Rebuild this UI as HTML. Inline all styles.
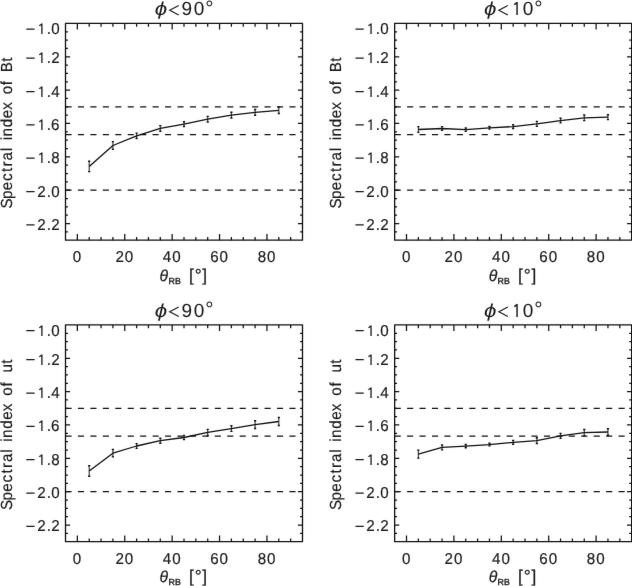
<!DOCTYPE html>
<html><head><meta charset="utf-8"><style>
html,body{margin:0;padding:0;background:#fff;}
body{width:632px;height:586px;overflow:hidden;}
svg{display:block;}
text{font-family:"Liberation Sans",sans-serif;fill:#1a1a1a;stroke:#1a1a1a;stroke-width:0.18px;text-rendering:geometricPrecision;}
</style></head><body>
<svg width="632" height="586" viewBox="0 0 632 586">
<defs><filter id="soft" x="0" y="0" width="632" height="586" filterUnits="userSpaceOnUse" color-interpolation-filters="sRGB"><feConvolveMatrix order="3" kernelMatrix="0.00276 0.04704 0.00276 0.04704 0.80077 0.04704 0.00276 0.04704 0.00276" edgeMode="duplicate"/></filter></defs>
<g filter="url(#soft)">
<rect width="632" height="586" fill="#fff"/>
<path d="M77.35 240.20v-6.1M77.35 23.45v6.1M89.20 240.20v-3.3M89.20 23.45v3.3M101.05 240.20v-3.3M101.05 23.45v3.3M112.90 240.20v-3.3M112.90 23.45v3.3M124.75 240.20v-6.1M124.75 23.45v6.1M136.60 240.20v-3.3M136.60 23.45v3.3M148.45 240.20v-3.3M148.45 23.45v3.3M160.30 240.20v-3.3M160.30 23.45v3.3M172.15 240.20v-6.1M172.15 23.45v6.1M184.00 240.20v-3.3M184.00 23.45v3.3M195.85 240.20v-3.3M195.85 23.45v3.3M207.70 240.20v-3.3M207.70 23.45v3.3M219.55 240.20v-6.1M219.55 23.45v6.1M231.40 240.20v-3.3M231.40 23.45v3.3M243.25 240.20v-3.3M243.25 23.45v3.3M255.10 240.20v-3.3M255.10 23.45v3.3M266.95 240.20v-6.1M266.95 23.45v6.1M278.80 240.20v-3.3M278.80 23.45v3.3M290.65 240.20v-3.3M290.65 23.45v3.3M65.50 31.79h2.4M302.50 31.79h-2.4M65.50 40.12h2.4M302.50 40.12h-2.4M65.50 48.46h2.4M302.50 48.46h-2.4M65.50 56.80h4.6M302.50 56.80h-4.6M65.50 65.13h2.4M302.50 65.13h-2.4M65.50 73.47h2.4M302.50 73.47h-2.4M65.50 81.81h2.4M302.50 81.81h-2.4M65.50 90.14h4.6M302.50 90.14h-4.6M65.50 98.48h2.4M302.50 98.48h-2.4M65.50 106.82h2.4M302.50 106.82h-2.4M65.50 115.15h2.4M302.50 115.15h-2.4M65.50 123.49h4.6M302.50 123.49h-4.6M65.50 131.82h2.4M302.50 131.82h-2.4M65.50 140.16h2.4M302.50 140.16h-2.4M65.50 148.50h2.4M302.50 148.50h-2.4M65.50 156.83h4.6M302.50 156.83h-4.6M65.50 165.17h2.4M302.50 165.17h-2.4M65.50 173.51h2.4M302.50 173.51h-2.4M65.50 181.84h2.4M302.50 181.84h-2.4M65.50 190.18h4.6M302.50 190.18h-4.6M65.50 198.52h2.4M302.50 198.52h-2.4M65.50 206.85h2.4M302.50 206.85h-2.4M65.50 215.19h2.4M302.50 215.19h-2.4M65.50 223.53h4.6M302.50 223.53h-4.6M65.50 231.86h2.4M302.50 231.86h-2.4" stroke="#111" stroke-width="1.25" fill="none"/>
<path d="M65.50 106.82H302.50" stroke="#111" stroke-width="1.3" stroke-dasharray="6.1 6.34" fill="none"/>
<path d="M65.50 134.60H302.50" stroke="#111" stroke-width="1.3" stroke-dasharray="6.1 6.34" fill="none"/>
<path d="M65.50 190.18H302.50" stroke="#111" stroke-width="1.3" stroke-dasharray="6.1 6.34" fill="none"/>
<rect x="65.5" y="23.45" width="237.0" height="216.75" stroke="#111" stroke-width="1.3" fill="none" stroke-linejoin="round"/>
<path d="M89.20 161.20V171.60M112.90 141.60V149.40M136.60 133.10V138.50M160.30 125.60V131.30M184.00 121.80V126.50M207.70 116.35V122.05M231.40 112.30V118.00M255.10 109.50V115.20M278.80 107.10V113.50" stroke="#333" stroke-width="1.1" fill="none"/>
<path d="M88.10 161.20h2.2M88.10 171.60h2.2M111.80 141.60h2.2M111.80 149.40h2.2M135.50 133.10h2.2M135.50 138.50h2.2M159.20 125.60h2.2M159.20 131.30h2.2M182.90 121.80h2.2M182.90 126.50h2.2M206.60 116.35h2.2M206.60 122.05h2.2M230.30 112.30h2.2M230.30 118.00h2.2M254.00 109.50h2.2M254.00 115.20h2.2M277.70 107.10h2.2M277.70 113.50h2.2" stroke="#111" stroke-width="1.4" fill="none"/>
<polyline points="89.20,166.40 112.90,145.50 136.60,135.80 160.30,128.45 184.00,124.15 207.70,119.20 231.40,115.15 255.10,112.35 278.80,110.30" stroke="#111" stroke-width="1.3" fill="none" stroke-linejoin="round"/>
<text transform="scale(0.96,1)" x="48.64 53.31" y="34.00" font-size="15.8"  >.0</text>
<text transform="scale(0.96,1)" x="48.64 53.31" y="63.00" font-size="15.8"  >.2</text>
<text transform="scale(0.96,1)" x="48.64 53.36" y="97.00" font-size="15.8"  >.4</text>
<text transform="scale(0.96,1)" x="48.64 53.26" y="130.00" font-size="15.8"  >.6</text>
<text transform="scale(0.96,1)" x="48.64 53.31" y="163.00" font-size="15.8"  >.8</text>
<text transform="scale(0.96,1)" x="38.73 48.64 53.31" y="197.00" font-size="15.8"  >2.0</text>
<text transform="scale(0.96,1)" x="38.73 48.64 53.31" y="230.00" font-size="15.8"  >2.2</text>
<path d="M26.30 29.05h8.3M26.30 58.20h8.3M26.30 91.54h8.3M26.30 124.89h8.3M26.30 158.23h8.3M26.30 191.58h8.3M26.30 224.93h8.3" stroke="#1a1a1a" stroke-width="1.25" fill="none"/>
<path d="M41.90 34.00V23.50M42.20 23.80L39.30 25.70M41.90 63.00V52.50M42.20 52.80L39.30 54.70M41.90 97.00V86.50M42.20 86.80L39.30 88.70M41.90 130.00V119.50M42.20 119.80L39.30 121.70M41.90 163.00V152.50M42.20 152.80L39.30 154.70" stroke="#1a1a1a" stroke-width="1.3" fill="none"/>
<text transform="scale(0.96,1)" x="75.87" y="262.10" font-size="15.8"  >0</text>
<text transform="scale(0.96,1)" x="120.24 130.03" y="262.10" font-size="15.8"  >20</text>
<text transform="scale(0.96,1)" x="169.67 179.41" y="262.10" font-size="15.8"  >40</text>
<text transform="scale(0.96,1)" x="218.94 228.78" y="262.10" font-size="15.8"  >60</text>
<text transform="scale(0.96,1)" x="268.37 278.16" y="262.10" font-size="15.8"  >80</text>
<text transform="translate(161.00,15.25) scale(1.2,1.0)" x="-5.17" y="0" font-size="18.6" font-style="italic" style="stroke-width:0">ϕ</text>
<path d="M178.70 5.55L169.70 10.25L178.70 14.95" stroke="#1a1a1a" stroke-width="1.15" fill="none" stroke-linejoin="miter"/>
<text x="181.62 193.67" y="15.00" font-size="19.0" style="stroke-width:0.05px" >90</text>
<text x="205.15" y="14.85" font-size="20.8" style="stroke-width:0" >°</text>
<text x="159.49" y="280.80" font-size="15.8" font-style="italic" >θ</text>
<text x="168.42 174.94" y="283.90" font-size="8.8"  style="stroke-width:0.35px">RB</text>
<text x="188.91 202.31" y="280.80" font-size="17.2"  >[]</text>
<text x="194.71" y="280.90" font-size="17.5"  >°</text>
<g transform="translate(12.00,0) rotate(-90)"><text transform="scale(0.95,1)" x="-219.60 -209.42 -200.22 -190.55 -181.18 -175.22 -168.95 -159.25 -147.51 -143.57 -133.85 -124.59 -115.53 -99.29 -89.61 -76.10 -65.02" y="0.00" font-size="16.0"  >SpectralindexofBt</text></g>
<path d="M406.50 240.20v-6.1M406.50 23.45v6.1M418.35 240.20v-3.3M418.35 23.45v3.3M430.20 240.20v-3.3M430.20 23.45v3.3M442.05 240.20v-3.3M442.05 23.45v3.3M453.90 240.20v-6.1M453.90 23.45v6.1M465.75 240.20v-3.3M465.75 23.45v3.3M477.60 240.20v-3.3M477.60 23.45v3.3M489.45 240.20v-3.3M489.45 23.45v3.3M501.30 240.20v-6.1M501.30 23.45v6.1M513.15 240.20v-3.3M513.15 23.45v3.3M525.00 240.20v-3.3M525.00 23.45v3.3M536.85 240.20v-3.3M536.85 23.45v3.3M548.70 240.20v-6.1M548.70 23.45v6.1M560.55 240.20v-3.3M560.55 23.45v3.3M572.40 240.20v-3.3M572.40 23.45v3.3M584.25 240.20v-3.3M584.25 23.45v3.3M596.10 240.20v-6.1M596.10 23.45v6.1M607.95 240.20v-3.3M607.95 23.45v3.3M619.80 240.20v-3.3M619.80 23.45v3.3M394.65 31.79h2.4M631.65 31.79h-2.4M394.65 40.12h2.4M631.65 40.12h-2.4M394.65 48.46h2.4M631.65 48.46h-2.4M394.65 56.80h4.6M631.65 56.80h-4.6M394.65 65.13h2.4M631.65 65.13h-2.4M394.65 73.47h2.4M631.65 73.47h-2.4M394.65 81.81h2.4M631.65 81.81h-2.4M394.65 90.14h4.6M631.65 90.14h-4.6M394.65 98.48h2.4M631.65 98.48h-2.4M394.65 106.82h2.4M631.65 106.82h-2.4M394.65 115.15h2.4M631.65 115.15h-2.4M394.65 123.49h4.6M631.65 123.49h-4.6M394.65 131.82h2.4M631.65 131.82h-2.4M394.65 140.16h2.4M631.65 140.16h-2.4M394.65 148.50h2.4M631.65 148.50h-2.4M394.65 156.83h4.6M631.65 156.83h-4.6M394.65 165.17h2.4M631.65 165.17h-2.4M394.65 173.51h2.4M631.65 173.51h-2.4M394.65 181.84h2.4M631.65 181.84h-2.4M394.65 190.18h4.6M631.65 190.18h-4.6M394.65 198.52h2.4M631.65 198.52h-2.4M394.65 206.85h2.4M631.65 206.85h-2.4M394.65 215.19h2.4M631.65 215.19h-2.4M394.65 223.53h4.6M631.65 223.53h-4.6M394.65 231.86h2.4M631.65 231.86h-2.4" stroke="#111" stroke-width="1.25" fill="none"/>
<path d="M394.65 106.82H631.65" stroke="#111" stroke-width="1.3" stroke-dasharray="6.1 6.34" fill="none"/>
<path d="M394.65 134.60H631.65" stroke="#111" stroke-width="1.3" stroke-dasharray="6.1 6.34" fill="none"/>
<path d="M394.65 190.18H631.65" stroke="#111" stroke-width="1.3" stroke-dasharray="6.1 6.34" fill="none"/>
<rect x="394.65" y="23.45" width="237.0" height="216.75" stroke="#111" stroke-width="1.3" fill="none" stroke-linejoin="round"/>
<path d="M418.35 126.60V132.40M442.05 126.60V130.40M465.75 128.00V131.40M489.45 126.55V129.15M513.15 124.70V128.50M536.85 121.40V126.40M560.55 118.20V122.90M584.25 115.00V120.60M607.95 114.70V119.60" stroke="#333" stroke-width="1.1" fill="none"/>
<path d="M417.25 126.60h2.2M417.25 132.40h2.2M440.95 126.60h2.2M440.95 130.40h2.2M464.65 128.00h2.2M464.65 131.40h2.2M488.35 126.55h2.2M488.35 129.15h2.2M512.05 124.70h2.2M512.05 128.50h2.2M535.75 121.40h2.2M535.75 126.40h2.2M559.45 118.20h2.2M559.45 122.90h2.2M583.15 115.00h2.2M583.15 120.60h2.2M606.85 114.70h2.2M606.85 119.60h2.2" stroke="#111" stroke-width="1.4" fill="none"/>
<polyline points="418.35,129.50 442.05,128.50 465.75,129.70 489.45,127.85 513.15,126.60 536.85,123.90 560.55,120.55 584.25,117.80 607.95,117.15" stroke="#111" stroke-width="1.3" fill="none" stroke-linejoin="round"/>
<text transform="scale(0.96,1)" x="391.50 396.18" y="34.00" font-size="15.8"  >.0</text>
<text transform="scale(0.96,1)" x="391.50 396.18" y="63.00" font-size="15.8"  >.2</text>
<text transform="scale(0.96,1)" x="391.50 396.23" y="97.00" font-size="15.8"  >.4</text>
<text transform="scale(0.96,1)" x="391.50 396.13" y="130.00" font-size="15.8"  >.6</text>
<text transform="scale(0.96,1)" x="391.50 396.18" y="163.00" font-size="15.8"  >.8</text>
<text transform="scale(0.96,1)" x="381.60 391.50 396.18" y="197.00" font-size="15.8"  >2.0</text>
<text transform="scale(0.96,1)" x="381.60 391.50 396.18" y="230.00" font-size="15.8"  >2.2</text>
<path d="M355.45 29.05h8.3M355.45 58.20h8.3M355.45 91.54h8.3M355.45 124.89h8.3M355.45 158.23h8.3M355.45 191.58h8.3M355.45 224.93h8.3" stroke="#1a1a1a" stroke-width="1.25" fill="none"/>
<path d="M371.05 34.00V23.50M371.35 23.80L368.45 25.70M371.05 63.00V52.50M371.35 52.80L368.45 54.70M371.05 97.00V86.50M371.35 86.80L368.45 88.70M371.05 130.00V119.50M371.35 119.80L368.45 121.70M371.05 163.00V152.50M371.35 152.80L368.45 154.70" stroke="#1a1a1a" stroke-width="1.3" fill="none"/>
<text transform="scale(0.96,1)" x="418.73" y="262.10" font-size="15.8"  >0</text>
<text transform="scale(0.96,1)" x="463.11 472.90" y="262.10" font-size="15.8"  >20</text>
<text transform="scale(0.96,1)" x="512.53 522.27" y="262.10" font-size="15.8"  >40</text>
<text transform="scale(0.96,1)" x="561.80 571.65" y="262.10" font-size="15.8"  >60</text>
<text transform="scale(0.96,1)" x="611.23 621.02" y="262.10" font-size="15.8"  >80</text>
<text transform="translate(490.15,15.25) scale(1.2,1.0)" x="-5.17" y="0" font-size="18.6" font-style="italic" style="stroke-width:0">ϕ</text>
<path d="M507.85 5.55L498.85 10.25L507.85 14.95" stroke="#1a1a1a" stroke-width="1.15" fill="none" stroke-linejoin="miter"/>
<path d="M517.05 15.00V2.00M517.35 2.30L514.25 4.60" stroke="#1a1a1a" stroke-width="1.45" fill="none"/>
<text x="522.82" y="15.00" font-size="19.0" style="stroke-width:0.05px" >0</text>
<text x="534.30" y="14.85" font-size="20.8" style="stroke-width:0" >°</text>
<text x="488.64" y="280.80" font-size="15.8" font-style="italic" >θ</text>
<text x="497.57 504.09" y="283.90" font-size="8.8"  style="stroke-width:0.35px">RB</text>
<text x="518.06 531.46" y="280.80" font-size="17.2"  >[]</text>
<text x="523.86" y="280.90" font-size="17.5"  >°</text>
<g transform="translate(341.15,0) rotate(-90)"><text transform="scale(0.95,1)" x="-219.60 -209.42 -200.22 -190.55 -181.18 -175.22 -168.95 -159.25 -147.51 -143.57 -133.85 -124.59 -115.53 -99.29 -89.61 -76.10 -65.02" y="0.00" font-size="16.0"  >SpectralindexofBt</text></g>
<path d="M77.35 541.70v-6.1M77.35 324.95v6.1M89.20 541.70v-3.3M89.20 324.95v3.3M101.05 541.70v-3.3M101.05 324.95v3.3M112.90 541.70v-3.3M112.90 324.95v3.3M124.75 541.70v-6.1M124.75 324.95v6.1M136.60 541.70v-3.3M136.60 324.95v3.3M148.45 541.70v-3.3M148.45 324.95v3.3M160.30 541.70v-3.3M160.30 324.95v3.3M172.15 541.70v-6.1M172.15 324.95v6.1M184.00 541.70v-3.3M184.00 324.95v3.3M195.85 541.70v-3.3M195.85 324.95v3.3M207.70 541.70v-3.3M207.70 324.95v3.3M219.55 541.70v-6.1M219.55 324.95v6.1M231.40 541.70v-3.3M231.40 324.95v3.3M243.25 541.70v-3.3M243.25 324.95v3.3M255.10 541.70v-3.3M255.10 324.95v3.3M266.95 541.70v-6.1M266.95 324.95v6.1M278.80 541.70v-3.3M278.80 324.95v3.3M290.65 541.70v-3.3M290.65 324.95v3.3M65.50 333.29h2.4M302.50 333.29h-2.4M65.50 341.62h2.4M302.50 341.62h-2.4M65.50 349.96h2.4M302.50 349.96h-2.4M65.50 358.30h4.6M302.50 358.30h-4.6M65.50 366.63h2.4M302.50 366.63h-2.4M65.50 374.97h2.4M302.50 374.97h-2.4M65.50 383.31h2.4M302.50 383.31h-2.4M65.50 391.64h4.6M302.50 391.64h-4.6M65.50 399.98h2.4M302.50 399.98h-2.4M65.50 408.32h2.4M302.50 408.32h-2.4M65.50 416.65h2.4M302.50 416.65h-2.4M65.50 424.99h4.6M302.50 424.99h-4.6M65.50 433.32h2.4M302.50 433.32h-2.4M65.50 441.66h2.4M302.50 441.66h-2.4M65.50 450.00h2.4M302.50 450.00h-2.4M65.50 458.33h4.6M302.50 458.33h-4.6M65.50 466.67h2.4M302.50 466.67h-2.4M65.50 475.01h2.4M302.50 475.01h-2.4M65.50 483.34h2.4M302.50 483.34h-2.4M65.50 491.68h4.6M302.50 491.68h-4.6M65.50 500.02h2.4M302.50 500.02h-2.4M65.50 508.35h2.4M302.50 508.35h-2.4M65.50 516.69h2.4M302.50 516.69h-2.4M65.50 525.03h4.6M302.50 525.03h-4.6M65.50 533.36h2.4M302.50 533.36h-2.4" stroke="#111" stroke-width="1.25" fill="none"/>
<path d="M65.50 408.32H302.50" stroke="#111" stroke-width="1.3" stroke-dasharray="6.1 6.34" fill="none"/>
<path d="M65.50 436.10H302.50" stroke="#111" stroke-width="1.3" stroke-dasharray="6.1 6.34" fill="none"/>
<path d="M65.50 491.68H302.50" stroke="#111" stroke-width="1.3" stroke-dasharray="6.1 6.34" fill="none"/>
<rect x="65.5" y="324.95" width="237.0" height="216.75" stroke="#111" stroke-width="1.3" fill="none" stroke-linejoin="round"/>
<path d="M89.20 465.70V476.20M112.90 449.50V456.90M136.60 443.60V448.40M160.30 438.20V443.20M184.00 435.40V439.60M207.70 429.35V435.55M231.40 425.70V431.40M255.10 420.70V428.50M278.80 417.55V425.45" stroke="#333" stroke-width="1.1" fill="none"/>
<path d="M88.10 465.70h2.2M88.10 476.20h2.2M111.80 449.50h2.2M111.80 456.90h2.2M135.50 443.60h2.2M135.50 448.40h2.2M159.20 438.20h2.2M159.20 443.20h2.2M182.90 435.40h2.2M182.90 439.60h2.2M206.60 429.35h2.2M206.60 435.55h2.2M230.30 425.70h2.2M230.30 431.40h2.2M254.00 420.70h2.2M254.00 428.50h2.2M277.70 417.55h2.2M277.70 425.45h2.2" stroke="#111" stroke-width="1.4" fill="none"/>
<polyline points="89.20,470.95 112.90,453.20 136.60,446.00 160.30,440.70 184.00,437.50 207.70,432.45 231.40,428.55 255.10,424.60 278.80,421.50" stroke="#111" stroke-width="1.3" fill="none" stroke-linejoin="round"/>
<text transform="scale(0.96,1)" x="48.64 53.31" y="336.00" font-size="15.8"  >.0</text>
<text transform="scale(0.96,1)" x="48.64 53.31" y="365.00" font-size="15.8"  >.2</text>
<text transform="scale(0.96,1)" x="48.64 53.36" y="398.00" font-size="15.8"  >.4</text>
<text transform="scale(0.96,1)" x="48.64 53.26" y="431.00" font-size="15.8"  >.6</text>
<text transform="scale(0.96,1)" x="48.64 53.31" y="465.00" font-size="15.8"  >.8</text>
<text transform="scale(0.96,1)" x="38.73 48.64 53.31" y="498.00" font-size="15.8"  >2.0</text>
<text transform="scale(0.96,1)" x="38.73 48.64 53.31" y="531.00" font-size="15.8"  >2.2</text>
<path d="M26.30 330.55h8.3M26.30 359.70h8.3M26.30 393.04h8.3M26.30 426.39h8.3M26.30 459.73h8.3M26.30 493.08h8.3M26.30 526.43h8.3" stroke="#1a1a1a" stroke-width="1.25" fill="none"/>
<path d="M41.90 336.00V325.50M42.20 325.80L39.30 327.70M41.90 365.00V354.50M42.20 354.80L39.30 356.70M41.90 398.00V387.50M42.20 387.80L39.30 389.70M41.90 431.00V420.50M42.20 420.80L39.30 422.70M41.90 465.00V454.50M42.20 454.80L39.30 456.70" stroke="#1a1a1a" stroke-width="1.3" fill="none"/>
<text transform="scale(0.96,1)" x="75.87" y="563.60" font-size="15.8"  >0</text>
<text transform="scale(0.96,1)" x="120.24 130.03" y="563.60" font-size="15.8"  >20</text>
<text transform="scale(0.96,1)" x="169.67 179.41" y="563.60" font-size="15.8"  >40</text>
<text transform="scale(0.96,1)" x="218.94 228.78" y="563.60" font-size="15.8"  >60</text>
<text transform="scale(0.96,1)" x="268.37 278.16" y="563.60" font-size="15.8"  >80</text>
<text transform="translate(161.00,316.75) scale(1.2,1.0)" x="-5.17" y="0" font-size="18.6" font-style="italic" style="stroke-width:0">ϕ</text>
<path d="M178.70 307.05L169.70 311.75L178.70 316.45" stroke="#1a1a1a" stroke-width="1.15" fill="none" stroke-linejoin="miter"/>
<text x="181.62 193.67" y="317.00" font-size="19.0" style="stroke-width:0.05px" >90</text>
<text x="205.15" y="316.35" font-size="20.8" style="stroke-width:0" >°</text>
<text x="159.49" y="582.30" font-size="15.8" font-style="italic" >θ</text>
<text x="168.42 174.94" y="585.40" font-size="8.8"  style="stroke-width:0.35px">RB</text>
<text x="188.91 202.31" y="582.30" font-size="17.2"  >[]</text>
<text x="194.71" y="582.40" font-size="17.5"  >°</text>
<g transform="translate(12.00,0) rotate(-90)"><text transform="scale(0.95,1)" x="-536.96 -526.79 -517.59 -507.92 -498.55 -492.59 -486.32 -476.62 -464.88 -460.93 -451.22 -441.96 -432.90 -416.66 -406.98 -392.23 -382.92" y="0.00" font-size="16.0"  >Spectralindexofut</text></g>
<path d="M406.50 541.70v-6.1M406.50 324.95v6.1M418.35 541.70v-3.3M418.35 324.95v3.3M430.20 541.70v-3.3M430.20 324.95v3.3M442.05 541.70v-3.3M442.05 324.95v3.3M453.90 541.70v-6.1M453.90 324.95v6.1M465.75 541.70v-3.3M465.75 324.95v3.3M477.60 541.70v-3.3M477.60 324.95v3.3M489.45 541.70v-3.3M489.45 324.95v3.3M501.30 541.70v-6.1M501.30 324.95v6.1M513.15 541.70v-3.3M513.15 324.95v3.3M525.00 541.70v-3.3M525.00 324.95v3.3M536.85 541.70v-3.3M536.85 324.95v3.3M548.70 541.70v-6.1M548.70 324.95v6.1M560.55 541.70v-3.3M560.55 324.95v3.3M572.40 541.70v-3.3M572.40 324.95v3.3M584.25 541.70v-3.3M584.25 324.95v3.3M596.10 541.70v-6.1M596.10 324.95v6.1M607.95 541.70v-3.3M607.95 324.95v3.3M619.80 541.70v-3.3M619.80 324.95v3.3M394.65 333.29h2.4M631.65 333.29h-2.4M394.65 341.62h2.4M631.65 341.62h-2.4M394.65 349.96h2.4M631.65 349.96h-2.4M394.65 358.30h4.6M631.65 358.30h-4.6M394.65 366.63h2.4M631.65 366.63h-2.4M394.65 374.97h2.4M631.65 374.97h-2.4M394.65 383.31h2.4M631.65 383.31h-2.4M394.65 391.64h4.6M631.65 391.64h-4.6M394.65 399.98h2.4M631.65 399.98h-2.4M394.65 408.32h2.4M631.65 408.32h-2.4M394.65 416.65h2.4M631.65 416.65h-2.4M394.65 424.99h4.6M631.65 424.99h-4.6M394.65 433.32h2.4M631.65 433.32h-2.4M394.65 441.66h2.4M631.65 441.66h-2.4M394.65 450.00h2.4M631.65 450.00h-2.4M394.65 458.33h4.6M631.65 458.33h-4.6M394.65 466.67h2.4M631.65 466.67h-2.4M394.65 475.01h2.4M631.65 475.01h-2.4M394.65 483.34h2.4M631.65 483.34h-2.4M394.65 491.68h4.6M631.65 491.68h-4.6M394.65 500.02h2.4M631.65 500.02h-2.4M394.65 508.35h2.4M631.65 508.35h-2.4M394.65 516.69h2.4M631.65 516.69h-2.4M394.65 525.03h4.6M631.65 525.03h-4.6M394.65 533.36h2.4M631.65 533.36h-2.4" stroke="#111" stroke-width="1.25" fill="none"/>
<path d="M394.65 408.32H631.65" stroke="#111" stroke-width="1.3" stroke-dasharray="6.1 6.34" fill="none"/>
<path d="M394.65 436.10H631.65" stroke="#111" stroke-width="1.3" stroke-dasharray="6.1 6.34" fill="none"/>
<path d="M394.65 491.68H631.65" stroke="#111" stroke-width="1.3" stroke-dasharray="6.1 6.34" fill="none"/>
<rect x="394.65" y="324.95" width="237.0" height="216.75" stroke="#111" stroke-width="1.3" fill="none" stroke-linejoin="round"/>
<path d="M418.35 450.10V458.10M442.05 445.00V449.90M465.75 444.50V447.80M489.45 443.30V445.90M513.15 440.40V444.20M536.85 437.80V443.50M560.55 433.40V438.40M584.25 429.50V435.90M607.95 428.70V435.30" stroke="#333" stroke-width="1.1" fill="none"/>
<path d="M417.25 450.10h2.2M417.25 458.10h2.2M440.95 445.00h2.2M440.95 449.90h2.2M464.65 444.50h2.2M464.65 447.80h2.2M488.35 443.30h2.2M488.35 445.90h2.2M512.05 440.40h2.2M512.05 444.20h2.2M535.75 437.80h2.2M535.75 443.50h2.2M559.45 433.40h2.2M559.45 438.40h2.2M583.15 429.50h2.2M583.15 435.90h2.2M606.85 428.70h2.2M606.85 435.30h2.2" stroke="#111" stroke-width="1.4" fill="none"/>
<polyline points="418.35,454.10 442.05,447.45 465.75,446.15 489.45,444.60 513.15,442.30 536.85,440.65 560.55,435.90 584.25,432.70 607.95,432.00" stroke="#111" stroke-width="1.3" fill="none" stroke-linejoin="round"/>
<text transform="scale(0.96,1)" x="391.50 396.18" y="336.00" font-size="15.8"  >.0</text>
<text transform="scale(0.96,1)" x="391.50 396.18" y="365.00" font-size="15.8"  >.2</text>
<text transform="scale(0.96,1)" x="391.50 396.23" y="398.00" font-size="15.8"  >.4</text>
<text transform="scale(0.96,1)" x="391.50 396.13" y="431.00" font-size="15.8"  >.6</text>
<text transform="scale(0.96,1)" x="391.50 396.18" y="465.00" font-size="15.8"  >.8</text>
<text transform="scale(0.96,1)" x="381.60 391.50 396.18" y="498.00" font-size="15.8"  >2.0</text>
<text transform="scale(0.96,1)" x="381.60 391.50 396.18" y="531.00" font-size="15.8"  >2.2</text>
<path d="M355.45 330.55h8.3M355.45 359.70h8.3M355.45 393.04h8.3M355.45 426.39h8.3M355.45 459.73h8.3M355.45 493.08h8.3M355.45 526.43h8.3" stroke="#1a1a1a" stroke-width="1.25" fill="none"/>
<path d="M371.05 336.00V325.50M371.35 325.80L368.45 327.70M371.05 365.00V354.50M371.35 354.80L368.45 356.70M371.05 398.00V387.50M371.35 387.80L368.45 389.70M371.05 431.00V420.50M371.35 420.80L368.45 422.70M371.05 465.00V454.50M371.35 454.80L368.45 456.70" stroke="#1a1a1a" stroke-width="1.3" fill="none"/>
<text transform="scale(0.96,1)" x="418.73" y="563.60" font-size="15.8"  >0</text>
<text transform="scale(0.96,1)" x="463.11 472.90" y="563.60" font-size="15.8"  >20</text>
<text transform="scale(0.96,1)" x="512.53 522.27" y="563.60" font-size="15.8"  >40</text>
<text transform="scale(0.96,1)" x="561.80 571.65" y="563.60" font-size="15.8"  >60</text>
<text transform="scale(0.96,1)" x="611.23 621.02" y="563.60" font-size="15.8"  >80</text>
<text transform="translate(490.15,316.75) scale(1.2,1.0)" x="-5.17" y="0" font-size="18.6" font-style="italic" style="stroke-width:0">ϕ</text>
<path d="M507.85 307.05L498.85 311.75L507.85 316.45" stroke="#1a1a1a" stroke-width="1.15" fill="none" stroke-linejoin="miter"/>
<path d="M517.05 317.00V304.00M517.35 304.30L514.25 306.60" stroke="#1a1a1a" stroke-width="1.45" fill="none"/>
<text x="522.82" y="317.00" font-size="19.0" style="stroke-width:0.05px" >0</text>
<text x="534.30" y="316.35" font-size="20.8" style="stroke-width:0" >°</text>
<text x="488.64" y="582.30" font-size="15.8" font-style="italic" >θ</text>
<text x="497.57 504.09" y="585.40" font-size="8.8"  style="stroke-width:0.35px">RB</text>
<text x="518.06 531.46" y="582.30" font-size="17.2"  >[]</text>
<text x="523.86" y="582.40" font-size="17.5"  >°</text>
<g transform="translate(341.15,0) rotate(-90)"><text transform="scale(0.95,1)" x="-536.96 -526.79 -517.59 -507.92 -498.55 -492.59 -486.32 -476.62 -464.88 -460.93 -451.22 -441.96 -432.90 -416.66 -406.98 -392.23 -382.92" y="0.00" font-size="16.0"  >Spectralindexofut</text></g>
</g>
</svg>
</body></html>
